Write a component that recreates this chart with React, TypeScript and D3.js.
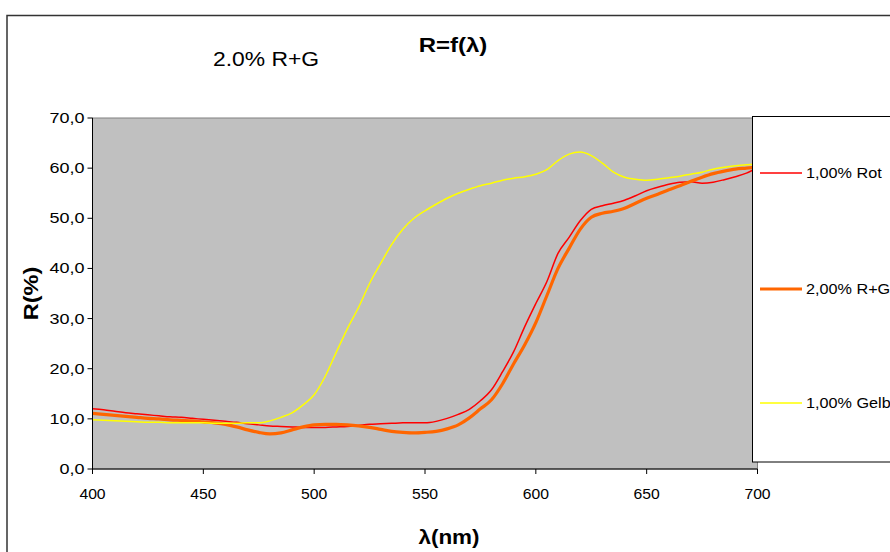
import React from "react";
import * as d3 from "d3";

const wavelengths: number[] = d3.range(400, 701, 5);

const rot: number[] = [
  12.0, 11.8, 11.5, 11.2, 11.0, 10.8, 10.6, 10.4, 10.3, 10.1,
  9.9, 9.7, 9.5, 9.3, 9.0, 8.8, 8.6, 8.5, 8.4, 8.3,
  8.3, 8.3, 8.4, 8.5, 8.7, 8.9, 9.0, 9.1, 9.2, 9.2,
  9.2, 9.5, 10.1, 10.9, 11.9, 13.6, 15.8, 19.4, 23.4, 28.4,
  33.0, 37.4, 43.0, 46.2, 49.5, 51.8, 52.5, 53.0, 53.6, 54.5,
  55.5, 56.2, 56.8, 57.2, 57.3, 57.0, 57.2, 57.7, 58.3, 59.0,
  60.1,
];

const rg: number[] = [
  11.1, 10.9, 10.7, 10.5, 10.3, 10.1, 10.0, 9.8, 9.7, 9.6,
  9.4, 9.2, 8.9, 8.4, 7.8, 7.3, 7.0, 7.2, 7.8, 8.4,
  8.8, 8.9, 8.9, 8.8, 8.6, 8.3, 7.9, 7.5, 7.3, 7.2,
  7.3, 7.5, 8.0, 8.8, 10.2, 12.0, 13.8, 17.0, 21.0, 24.8,
  29.2, 34.6, 40.0, 44.0, 47.8, 50.2, 51.0, 51.4, 52.0, 53.0,
  54.0, 54.8, 55.7, 56.5, 57.4, 58.2, 58.9, 59.4, 59.8, 60.0,
  60.2,
];

const gelb: number[] = [
  9.8, 9.7, 9.6, 9.5, 9.4, 9.3, 9.3, 9.2, 9.2, 9.2,
  9.2, 9.1, 9.1, 9.1, 9.2, 9.2, 9.6, 10.3, 11.2, 12.8,
  14.8, 18.5, 23.3, 28.0, 32.2, 37.0, 41.0, 44.8, 47.8, 50.0,
  51.5, 52.8, 54.0, 55.0, 55.8, 56.5, 57.0, 57.6, 58.0, 58.3,
  58.8, 59.7, 61.5, 62.8, 63.2, 62.5, 61.0, 59.2, 58.2, 57.8,
  57.6, 57.8, 58.1, 58.4, 58.8, 59.2, 59.8, 60.2, 60.5, 60.7,
  60.8,
];

const seriesNames: string[] = ["1,00% Rot", "2,00% R+G", "1,00% Gelb"];
const seriesColors: string[] = ["#FF0000", "#FF6600", "#FFFF00"];
const seriesWidths: number[] = [1.5, 3.2, 1.5];
const seriesValues: number[][] = [rot, rg, gelb];

const xTicks: number[] = [400, 450, 500, 550, 600, 650, 700];
const yTicks: number[] = [0, 10, 20, 30, 40, 50, 60, 70];

const chartTitle = "R=f(\u03BB)";
const subTitle = "2.0% R+G";
const xLabel = "\u03BB(nm)";
const yLabel = "R(%)";

const W = 890;
const H = 552;
const plot = { left: 92.5, right: 757.5, top: 118, bottom: 469 };
const legendY: number[] = [173, 289, 403];

type STProps = {
  x: number;
  y: number;
  sx: number;
  size: number;
  anchor?: "start" | "middle" | "end";
  bold?: boolean;
  rotate?: number;
  children: React.ReactNode;
};

function SText({ x, y, sx, size, anchor = "start", bold = false, rotate = 0, children }: STProps) {
  return (
    <text
      transform={`translate(${x},${y}) rotate(${rotate}) scale(${sx},1)`}
      textAnchor={anchor}
      fontSize={size}
      fontWeight={bold ? "bold" : "normal"}
      fill="#000"
    >
      {children}
    </text>
  );
}

export default function App() {
  const x = d3.scaleLinear().domain([400, 700]).range([plot.left, plot.right]);
  const y = d3.scaleLinear().domain([0, 70]).range([plot.bottom, plot.top]);
  const fmt = (v: number) => d3.format(".1f")(v).replace(".", ",");
  const font = "Arial, 'Liberation Sans', sans-serif";

  const line = d3
    .line<number>()
    .x((_, i) => x(wavelengths[i]))
    .y((d) => y(d))
    .curve(d3.curveMonotoneX);

  return (
    <svg
      width={W}
      height={H}
      style={{ position: "absolute", left: 0, top: 0, background: "#fff" }}
      fontFamily={font}
    >
      <rect x={7} y={15.5} width={W + 20} height={H} fill="#fff" stroke="#333" strokeWidth={1.5} />
      <SText x={453} y={52} sx={1.2} size={20} anchor="middle" bold>
        {chartTitle}
      </SText>
      <SText x={266} y={66} sx={1.09} size={21} anchor="middle">
        {subTitle}
      </SText>

      <rect
        x={plot.left}
        y={plot.top}
        width={plot.right - plot.left}
        height={plot.bottom - plot.top}
        fill="#C0C0C0"
        stroke="#808080"
        strokeWidth={1}
      />

      {seriesValues.map((vals, i) => (
        <path
          key={seriesNames[i]}
          d={line(vals) || ""}
          fill="none"
          stroke={seriesColors[i]}
          strokeWidth={seriesWidths[i]}
          strokeLinejoin="round"
        />
      ))}

      <line x1={plot.left} x2={plot.left} y1={plot.top} y2={plot.bottom} stroke="#000" strokeWidth={1} />
      <line x1={plot.left} x2={plot.right} y1={plot.bottom} y2={plot.bottom} stroke="#000" strokeWidth={1} />

      {yTicks.map((t) => (
        <g key={"y" + t}>
          <line x1={plot.left - 5} x2={plot.left} y1={y(t)} y2={y(t)} stroke="#000" />
          <SText x={plot.left - 8} y={y(t) + 5} sx={1.2} size={15} anchor="end">
            {fmt(t)}
          </SText>
        </g>
      ))}
      {xTicks.map((t) => (
        <g key={"x" + t}>
          <line x1={x(t)} x2={x(t)} y1={plot.bottom} y2={plot.bottom + 5} stroke="#000" />
          <SText x={x(t)} y={plot.bottom + 30} sx={1.05} size={15} anchor="middle">
            {t}
          </SText>
        </g>
      ))}

      <SText x={38} y={(plot.top + plot.bottom) / 2} sx={1.12} size={21} anchor="middle" bold rotate={-90}>
        {yLabel}
      </SText>
      <SText x={449} y={544} sx={1.07} size={21} anchor="middle" bold>
        {xLabel}
      </SText>

      <rect x={752.5} y={116.5} width={160} height={345.5} fill="#fff" stroke="#000" strokeWidth={1} />
      {seriesNames.map((n, i) => (
        <g key={"leg" + n}>
          <line
            x1={760}
            x2={802}
            y1={legendY[i]}
            y2={legendY[i]}
            stroke={seriesColors[i]}
            strokeWidth={seriesWidths[i]}
          />
          <SText x={806} y={legendY[i] + 5} sx={1.08} size={15}>
            {n}
          </SText>
        </g>
      ))}
    </svg>
  );
}
